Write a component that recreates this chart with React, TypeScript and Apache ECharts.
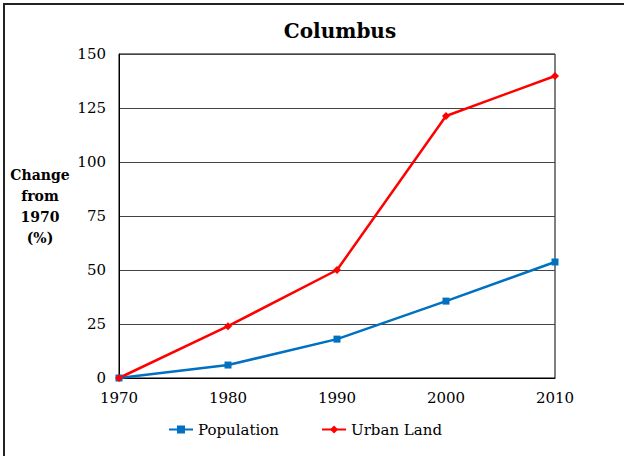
import React, { useEffect, useRef } from "react";
import * as echarts from "echarts";

const years = [1970, 1980, 1990, 2000, 2010];
const population = [0, 6, 18, 35.6, 53.7];
const urbanLand = [0, 24, 50, 121.3, 139.8];

const FONT = "DejaVu Serif";

export default function App() {
  const ref = useRef<HTMLDivElement>(null);
  useEffect(() => {
    if (!ref.current) return;
    const chart = echarts.init(ref.current, null, { renderer: "svg" });
    chart.setOption({
      animation: false,
      backgroundColor: "#fff",
      textStyle: { fontFamily: FONT },
      title: {
        text: "Columbus",
        left: 335,
        textAlign: "center",
        top: 16,
        textStyle: { fontFamily: FONT, fontWeight: "bold", fontSize: 20, color: "#000" },
      },
      grid: {
        left: 119,
        right: 69,
        top: 54,
        bottom: 78,
        show: true,
        borderColor: "#000",
        borderWidth: 1,
        containLabel: false,
      },
      legend: {
        bottom: 14,
        left: 163,
        itemGap: 42,
        itemWidth: 24,
        itemHeight: 10,
        textStyle: { fontFamily: FONT, fontSize: 15, color: "#000" },
        data: ["Population", "Urban Land"],
      },
      xAxis: {
        type: "value",
        min: 1970,
        max: 2010,
        interval: 10,
        axisLine: { show: true, lineStyle: { color: "#000" } },
        axisTick: { show: false },
        splitLine: { show: false },
        axisLabel: {
          fontFamily: FONT,
          fontSize: 15,
          color: "#000",
          margin: 12,
          formatter: (v: number) => String(v),
        },
      },
      yAxis: {
        type: "value",
        min: 0,
        max: 150,
        interval: 25,
        axisLine: { show: true, lineStyle: { color: "#000" } },
        axisTick: { show: false },
        splitLine: { show: true, lineStyle: { color: "#444", width: 1 } },
        axisLabel: { fontFamily: FONT, fontSize: 15, color: "#000", margin: 13 },
      },
      graphic: [
        {
          type: "text",
          x: 40,
          y: 164,
          style: {
            text: "Change\nfrom\n1970\n(%)",
            fontFamily: FONT,
            fontWeight: "bold",
            fontSize: 14,
            lineHeight: 21,
            fill: "#000",
            align: "center",
          },
        },
        { type: "line", shape: { x1: 3, y1: 4, x2: 624, y2: 4 }, style: { stroke: "#222", lineWidth: 2 } },
        { type: "line", shape: { x1: 4, y1: 3, x2: 4, y2: 456 }, style: { stroke: "#222", lineWidth: 2 } },
      ],
      series: [
        {
          name: "Population",
          type: "line",
          data: years.map((y, i) => [y, population[i]]),
          color: "#0070C0",
          lineStyle: { width: 2.5, color: "#0070C0" },
          symbol: "rect",
          symbolSize: 7,
          itemStyle: { color: "#0070C0" },
        },
        {
          name: "Urban Land",
          type: "line",
          data: years.map((y, i) => [y, urbanLand[i]]),
          color: "#FF0000",
          lineStyle: { width: 2.5, color: "#FF0000" },
          symbol: "diamond",
          symbolSize: 8,
          itemStyle: { color: "#FF0000" },
        },
      ],
    });
    return () => chart.dispose();
  }, []);
  return (
    <div
      ref={ref}
      style={{ position: "fixed", left: 0, top: 0, width: 624, height: 456 }}
    />
  );
}
